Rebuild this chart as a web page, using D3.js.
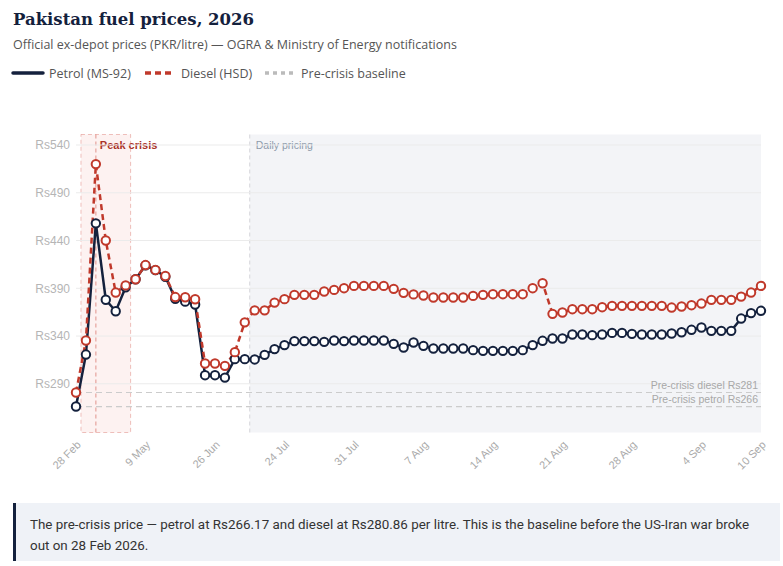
<!DOCTYPE html>
<html>
<head>
<meta charset="utf-8">
<script src="https://cdn.jsdelivr.net/npm/d3@7/dist/d3.min.js"></script>
<style>
  html, body { margin: 0; padding: 0; background: #fff; }
  svg { display: block; }
</style>
</head>
<body>
<svg id="chart" width="783" height="566"></svg>
<script>
// ---------- DATA ----------
const dates = [
  "28 Feb","9 Mar","19 Mar","29 Mar","8 Apr","18 Apr","28 Apr","9 May","16 May","23 May",
  "30 May","6 Jun","13 Jun","20 Jun","26 Jun","3 Jul","10 Jul","17 Jul","21 Jul","22 Jul",
  "23 Jul","24 Jul","25 Jul","26 Jul","27 Jul","28 Jul","29 Jul","30 Jul","31 Jul","1 Aug",
  "2 Aug","3 Aug","4 Aug","5 Aug","6 Aug","7 Aug","8 Aug","9 Aug","10 Aug","11 Aug",
  "12 Aug","13 Aug","14 Aug","15 Aug","16 Aug","17 Aug","18 Aug","19 Aug","20 Aug","21 Aug",
  "22 Aug","23 Aug","24 Aug","25 Aug","26 Aug","27 Aug","28 Aug","29 Aug","30 Aug","31 Aug",
  "1 Sep","2 Sep","3 Sep","4 Sep","5 Sep","6 Sep","7 Sep","8 Sep","9 Sep","10 Sep"
];
const petrol = [
  266.17, 320.6, 458, 378, 366, 391, 399.5, 414, 409, 402,
  379, 376, 373, 299, 299, 296.5, 315.8, 315.8, 315.5, 320.3,
  326.3, 330.5, 334.7, 334.7, 334.7, 333.9, 335.3, 334.7, 335.3, 335.3,
  335.3, 335.3, 331.8, 328, 333.2, 329.7, 326.9, 326.9, 326.9, 326.9,
  325.2, 324.5, 324.5, 324.5, 324.5, 325.2, 330.5, 335, 337.4, 337.4,
  341.6, 341.6, 340.9, 341.6, 343.3, 343.3, 342.3, 341.6, 341.6, 341.6,
  342.6, 344, 346.5, 348.9, 345.4, 345.4, 345.4, 358.3, 364, 366.4
];
const diesel = [
  280.86, 335.3, 520, 440, 385.5, 393, 399.5, 414.3, 409.2, 402.8,
  380.8, 380.6, 378.5, 311.2, 311.2, 308.8, 323.1, 354.3, 366.9, 366.9,
  375, 378.6, 383.1, 383.1, 383.1, 386.6, 388.3, 390.1, 392.5, 392.5,
  392.5, 392.5, 389.4, 385.2, 383.6, 382.4, 380.3, 380.3, 380.3, 380.3,
  382, 383.1, 383.8, 383.8, 383.8, 383.8, 390.1, 395.3, 363.2, 364.6,
  368.1, 368.1, 368.1, 370.2, 371.6, 371.6, 371.6, 371.6, 371.6, 371.6,
  369.8, 370.9, 372.3, 374, 377.9, 377.9, 377.9, 381.3, 385.5, 392.5
];
const xTickLabels = ["28 Feb","9 May","26 Jun","24 Jul","31 Jul","7 Aug","14 Aug","21 Aug","28 Aug","4 Sep","10 Sep"];
const yTickValues = [290, 340, 390, 440, 490, 540];
const baselinePetrol = 266.17;
const baselineDiesel = 280.86;
const peakCrisis = { start: "28 Feb", end: "18 Apr", peak: "19 Mar" };
const dailyStart = "17 Jul";

// ---------- STYLE ----------
const NAVY = "#14213d", RED = "#c0392b";
const FONT = "'Open Sans', 'Noto Sans', sans-serif";
const AXFONT = "'Liberation Sans', Arial, sans-serif";

const svg = d3.select("#chart");
const plot = { left: 76, right: 761, top: 134.5, bottom: 432.5 };

const x = d3.scalePoint().domain(dates).range([plot.left, plot.right]);
const step = x.step();
const y = d3.scaleLinear().domain([239, 551]).range([plot.bottom, plot.top]);

// Title
svg.append("text").attr("x", 13).attr("y", 25)
  .attr("font-family", "'DejaVu Serif', 'Liberation Serif', serif")
  .attr("font-weight", "bold").attr("font-size", 16.5).attr("fill", NAVY)
  .text("Pakistan fuel prices, 2026");
svg.append("text").attr("x", 13).attr("y", 49)
  .attr("font-family", FONT).attr("font-size", 12.5).attr("fill", "#555")
  .text("Official ex-depot prices (PKR/litre) — OGRA & Ministry of Energy notifications");

// Legend
const lg = svg.append("g").attr("transform", "translate(0,73)");
const LFS = 12.5;
lg.append("line").attr("x1", 13).attr("x2", 43).attr("y1", 0).attr("y2", 0)
  .attr("stroke", NAVY).attr("stroke-width", 3.5).attr("stroke-linecap", "round");
lg.append("text").attr("x", 49).attr("y", 4.5).attr("font-family", FONT).attr("font-size", LFS).attr("fill", "#555").text("Petrol (MS-92)");
lg.append("line").attr("x1", 145).attr("x2", 171).attr("y1", 0).attr("y2", 0)
  .attr("stroke", RED).attr("stroke-width", 3.5).attr("stroke-dasharray", "6,4");
lg.append("text").attr("x", 181).attr("y", 4.5).attr("font-family", FONT).attr("font-size", LFS).attr("fill", "#555").text("Diesel (HSD)");
lg.append("line").attr("x1", 265).attr("x2", 293).attr("y1", 0).attr("y2", 0)
  .attr("stroke", "#bbb").attr("stroke-width", 3.5).attr("stroke-dasharray", "4,4");
lg.append("text").attr("x", 301).attr("y", 4.5).attr("font-family", FONT).attr("font-size", LFS).attr("fill", "#555").text("Pre-crisis baseline");

// Daily pricing band
const dx0 = x(dailyStart) + step / 2;
svg.append("rect").attr("x", dx0).attr("y", plot.top)
  .attr("width", plot.right - dx0).attr("height", plot.bottom - plot.top)
  .attr("fill", "#f3f4f7");
svg.append("line").attr("x1", dx0).attr("x2", dx0).attr("y1", plot.top).attr("y2", plot.bottom)
  .attr("stroke", "#d5d5da").attr("stroke-width", 1).attr("stroke-dasharray", "4,3");
svg.append("text").attr("x", dx0 + 6).attr("y", plot.top + 14)
  .attr("font-family", AXFONT).attr("font-size", 10.5).attr("fill", "#8d9aaa")
  .text("Daily pricing");

// Peak crisis band
const px0 = x(peakCrisis.start) + step / 2, px1 = x(peakCrisis.end) + step / 2;
svg.append("rect").attr("x", px0).attr("y", plot.top)
  .attr("width", px1 - px0).attr("height", plot.bottom - plot.top)
  .attr("fill", "rgba(231,76,60,0.07)").attr("stroke", "rgba(220,120,110,0.45)")
  .attr("stroke-width", 1).attr("stroke-dasharray", "4,3");
svg.append("line").attr("x1", x(peakCrisis.peak)).attr("x2", x(peakCrisis.peak))
  .attr("y1", plot.top).attr("y2", plot.bottom)
  .attr("stroke", "rgba(215,110,100,0.6)").attr("stroke-width", 1.2).attr("stroke-dasharray", "4,3");
svg.append("text").attr("x", x(peakCrisis.peak) + 4).attr("y", plot.top + 14)
  .attr("font-family", AXFONT).attr("font-size", 11).attr("font-weight", "bold").attr("fill", "#a93226")
  .text("Peak crisis");

// Gridlines
svg.append("g").selectAll("line").data(yTickValues).join("line")
  .attr("x1", plot.left).attr("x2", plot.right)
  .attr("y1", d => y(d)).attr("y2", d => y(d))
  .attr("stroke", "#ebebeb").attr("stroke-width", 1);

// Y axis
const yAxis = svg.append("g").attr("transform", `translate(${plot.left},0)`)
  .call(d3.axisLeft(y).tickValues(yTickValues).tickFormat(d => "Rs" + d).tickSize(0).tickPadding(6));
yAxis.select(".domain").remove();
yAxis.selectAll("text").attr("font-family", AXFONT).attr("font-size", 12).attr("fill", "#b5b5b5");

// X axis
const xAxis = svg.append("g").attr("transform", `translate(0,${plot.bottom})`)
  .call(d3.axisBottom(x).tickValues(xTickLabels).tickSize(0));
xAxis.select(".domain").remove();
xAxis.selectAll("text")
  .attr("font-family", AXFONT).attr("font-size", 11).attr("fill", "#aaa")
  .attr("text-anchor", "end").attr("dy", 0).attr("y", 0)
  .attr("transform", "translate(5,13) rotate(-45)");

// Baselines
[[baselineDiesel, "Pre-crisis diesel Rs281"], [baselinePetrol, "Pre-crisis petrol Rs266"]].forEach(([v, label]) => {
  svg.append("line").attr("x1", plot.left).attr("x2", plot.right)
    .attr("y1", y(v)).attr("y2", y(v))
    .attr("stroke", "#ccc").attr("stroke-width", 1.2).attr("stroke-dasharray", "6,4");
  svg.append("text").attr("x", plot.right - 3).attr("y", y(v) - 4)
    .attr("text-anchor", "end").attr("font-family", AXFONT).attr("font-size", 10.5).attr("fill", "#a8a8a8")
    .text(label);
});

// Lines
const line = d3.line().x((d, i) => x(dates[i])).y(d => y(d));
svg.append("path").datum(petrol).attr("d", line)
  .attr("fill", "none").attr("stroke", NAVY).attr("stroke-width", 2.5);
svg.append("path").datum(diesel).attr("d", line)
  .attr("fill", "none").attr("stroke", RED).attr("stroke-width", 2.5).attr("stroke-dasharray", "6,4");

// Points
svg.append("g").selectAll("circle").data(petrol).join("circle")
  .attr("cx", (d, i) => x(dates[i])).attr("cy", d => y(d)).attr("r", 4.2)
  .attr("fill", "#fff").attr("stroke", NAVY).attr("stroke-width", 2);
svg.append("g").selectAll("circle").data(diesel).join("circle")
  .attr("cx", (d, i) => x(dates[i])).attr("cy", d => y(d)).attr("r", 4.2)
  .attr("fill", "#fff").attr("stroke", RED).attr("stroke-width", 2);

// Note box
svg.append("rect").attr("x", 13).attr("y", 503).attr("width", 767).attr("height", 58).attr("fill", "#eff2f7");
svg.append("rect").attr("x", 13).attr("y", 503).attr("width", 3).attr("height", 58).attr("fill", NAVY);
const note = svg.append("text").attr("font-family", "'Liberation Sans Narrow', 'Roboto', sans-serif")
  .attr("font-size", 13.4).attr("fill", "#333");
note.append("tspan").attr("x", 30).attr("y", 529)
  .text("The pre-crisis price — petrol at Rs266.17 and diesel at Rs280.86 per litre. This is the baseline before the US-Iran war broke");
note.append("tspan").attr("x", 30).attr("y", 550).text("out on 28 Feb 2026.");
</script>
</body>
</html>
